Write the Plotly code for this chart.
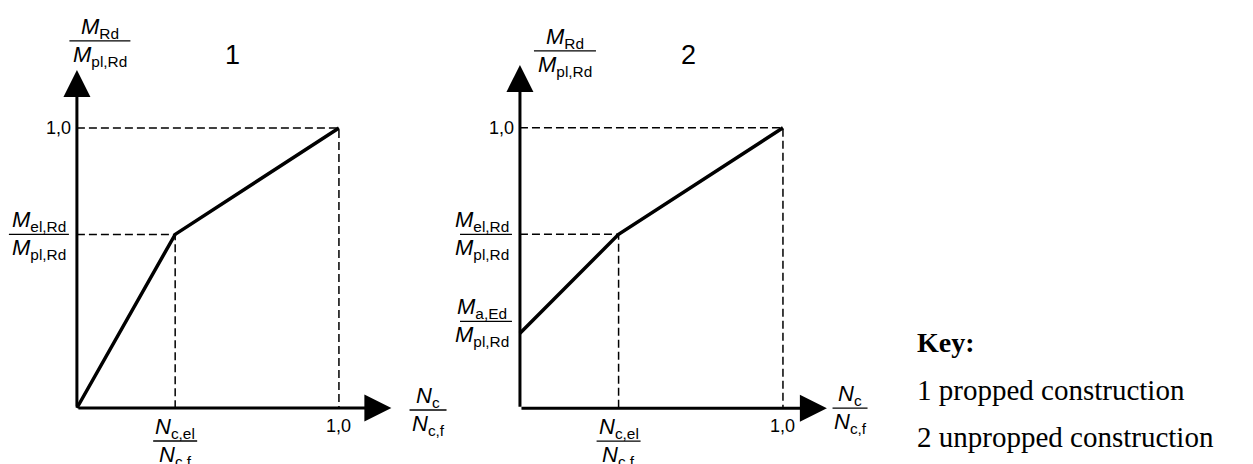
import plotly.graph_objects as go

# interaction diagram values
x_break = 0.375          # N_c,el / N_c,f
y_break = 0.62           # M_el,Rd / M_pl,Rd
y_start = [0.0, 0.267]   # propped / unpropped starting moment ratio
x_end, y_end = 1.0, 1.0
x_tip = [1.20, 1.167]
y_tip = [1.207, 1.224]
panel_names = ["1", "2"]
key_lines = ["1 propped construction", "2 unpropped construction"]

W, H = 1253, 464
OFF = 8  # page body margin
SANS = "Liberation Sans, Arial, sans-serif"
SERIF = "Liberation Serif, Times New Roman, serif"

fig = go.Figure()

FW, FH = W - OFF, H - OFF
# axis ranges chosen so that 0 and 1 fall where the reference has them
fig.update_layout(
    width=FW, height=FH, margin=dict(l=0, r=0, t=0, b=0),
    plot_bgcolor="white", paper_bgcolor="white", showlegend=False,
    xaxis=dict(domain=[0, 452 / FW], range=[-0.263, 1.462]),
    yaxis=dict(domain=[0, 1], range=[-0.2, 1.4286]),
    xaxis2=dict(domain=[452 / FW, 892 / FW], range=[-0.228, 1.445]),
    yaxis2=dict(domain=[0, 1], range=[-0.199, 1.4270], anchor="x2"),
)
fig.update_xaxes(visible=False, fixedrange=True)
fig.update_yaxes(visible=False, fixedrange=True)

dash = dict(color="black", width=1.5, dash="8px,4px")


def frac(xr, yr, x, y, num, den, w, xshift=0, yshift=0, size=22):
    fig.add_annotation(xref=xr, yref=yr, x=x, y=y, text=num, showarrow=False,
                       xanchor="center", yanchor="bottom", xshift=xshift, yshift=yshift - 2,
                       font=dict(family=SANS, size=size, color="black"), borderpad=0)
    fig.add_annotation(xref=xr, yref=yr, x=x, y=y, text=den, showarrow=False,
                       xanchor="center", yanchor="top", xshift=xshift, yshift=yshift,
                       font=dict(family=SANS, size=size, color="black"), borderpad=0)
    fig.add_shape(type="line", xref=xr, yref=yr, xsizemode="pixel", ysizemode="pixel",
                  xanchor=x, yanchor=y, x0=xshift - w / 2, x1=xshift + w / 2,
                  y0=yshift, y1=yshift, line=dict(color="black", width=1.3))


M_pl = "<i>M</i><sub>pl,Rd</sub>"
N_cf = "<i>N</i><sub>c,f</sub>"

for i in range(2):
    xr = "x" if i == 0 else "x2"
    yr = "y" if i == 0 else "y2"

    # dashed guide lines
    fig.add_trace(go.Scatter(x=[0, x_end, x_end], y=[y_end, y_end, 0], mode="lines",
                             line=dash, xaxis=xr, yaxis=yr, hoverinfo="skip"))
    fig.add_trace(go.Scatter(x=[0, x_break, x_break], y=[y_break, y_break, 0], mode="lines",
                             line=dash, xaxis=xr, yaxis=yr, hoverinfo="skip"))
    # resistance curve
    fig.add_trace(go.Scatter(x=[0, x_break, x_end], y=[y_start[i], y_break, y_end],
                             mode="lines", line=dict(color="black", width=3.5),
                             xaxis=xr, yaxis=yr, hoverinfo="skip"))

    # axes with arrow heads
    for tx, ty in [(x_tip[i], 0), (0, y_tip[i])]:
        fig.add_annotation(xref=xr, yref=yr, axref=xr, ayref=yr, x=tx, y=ty, ax=0, ay=0,
                           showarrow=True, arrowhead=2, arrowsize=1.8, arrowwidth=3,
                           arrowcolor="black", text="")

    # tick labels
    fig.add_annotation(xref=xr, yref=yr, x=0, y=1.0, text="1,0", showarrow=False,
                       xanchor="right", xshift=-4, font=dict(family=SANS, size=18, color="black"))
    fig.add_annotation(xref=xr, yref=yr, x=1.0, y=0, text="1,0", showarrow=False,
                       yanchor="top", yshift=-6, font=dict(family=SANS, size=18, color="black"))

    # fraction labels
    frac(xr, yr, x_break, 0, "<i>N</i><sub>c,el</sub>", N_cf, 44, yshift=-33)
    frac(xr, yr, 0, y_break, "<i>M</i><sub>el,Rd</sub>", M_pl, 60, xshift=-38)
    fig.add_annotation(xref=xr, yref=yr, x=[0.595, 0.639][i], y=1.26, text=panel_names[i],
                       showarrow=False, font=dict(family=SANS, size=27, color="black"))

frac("x", "y", 0, 1.311, "<i>M</i><sub>Rd</sub>", M_pl, 61, xshift=23)
frac("x", "y", 1.34, 0, "<i>N</i><sub>c</sub>", N_cf, 37, yshift=-2)

frac("x2", "y2", 0, 1.274, "<i>M</i><sub>Rd</sub>", M_pl, 62, xshift=45)
frac("x2", "y2", 0, y_start[1], "<i>M</i><sub>a,Ed</sub>", M_pl, 60, xshift=-38, yshift=12)
frac("x2", "y2", 1.255, 0, "<i>N</i><sub>c</sub>", N_cf, 35, yshift=0)

# key
fig.add_annotation(xref="paper", yref="paper", x=(915 - OFF) / FW, y=1 - (342 - OFF) / FH,
                   text="<b>Key:</b>", showarrow=False, xanchor="left", yanchor="middle",
                   font=dict(family=SERIF, size=28, color="black"))
for j, t in enumerate(key_lines):
    fig.add_annotation(xref="paper", yref="paper", x=(915 - OFF) / FW,
                       y=1 - (390 + 47 * j - OFF) / FH, text=t,
                       showarrow=False, xanchor="left", yanchor="middle",
                       font=dict(family=SERIF, size=29, color="black"))

fig.write_html("out.html")
